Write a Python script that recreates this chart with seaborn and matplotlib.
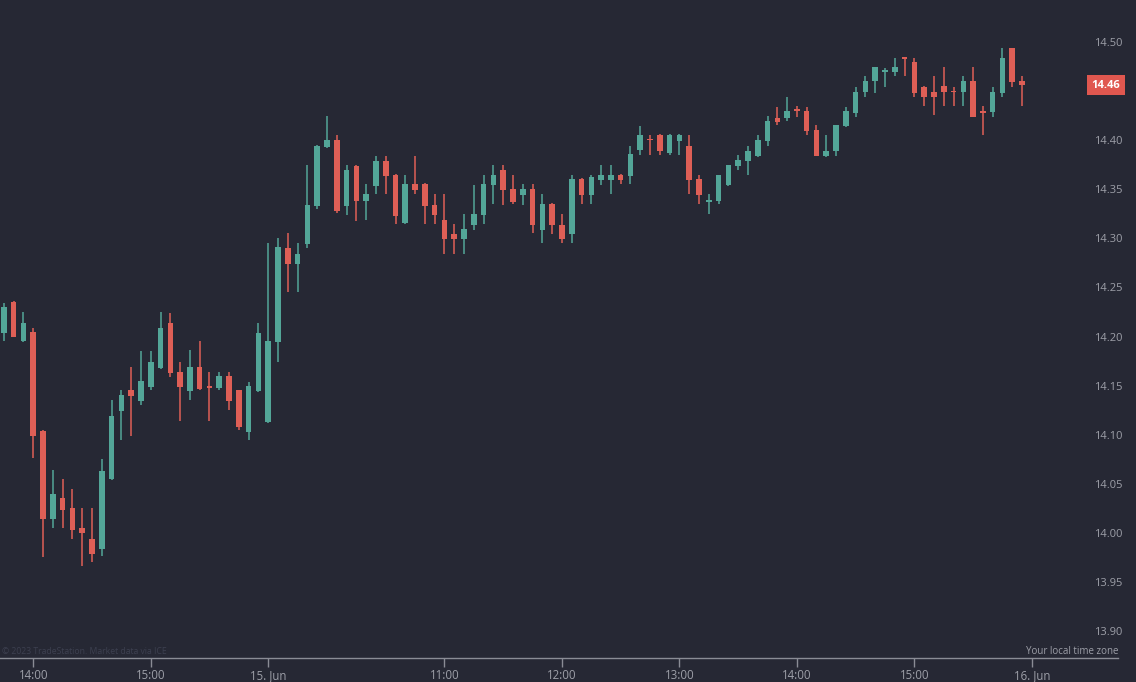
import numpy as np
import pandas as pd
import matplotlib
matplotlib.use("Agg")
import matplotlib.pyplot as plt
import matplotlib.transforms as mtransforms
import seaborn as sns

# 5-minute candles, 14 Jun 13:45 -> 15 Jun 15:55 (session 9:30-16:00)
opens = [14.204, 14.235, 14.195, 14.205, 14.104, 14.014, 14.035, 14.025, 14.005, 13.994,
         13.984, 14.055, 14.124, 14.145, 14.134, 14.149, 14.168, 14.214, 14.164, 14.144,
         14.169, 14.150, 14.148, 14.160, 14.145, 14.103, 14.144, 14.113, 14.194, 14.290,
         14.274, 14.294, 14.333, 14.393, 14.400, 14.333, 14.374, 14.338, 14.353, 14.379,
         14.365, 14.316, 14.355, 14.355, 14.334, 14.319, 14.304, 14.299, 14.314, 14.324,
         14.354, 14.370, 14.350, 14.344, 14.350, 14.309, 14.335, 14.314, 14.304, 14.360,
         14.344, 14.359, 14.359, 14.365, 14.364, 14.390, 14.401, 14.405, 14.387, 14.399,
         14.394, 14.360, 14.337, 14.338, 14.354, 14.374, 14.379, 14.384, 14.399, 14.423,
         14.423, 14.431, 14.430, 14.410, 14.384, 14.389, 14.414, 14.428, 14.449, 14.460,
         14.469, 14.469, 14.484, 14.480, 14.454, 14.449, 14.455, 14.450, 14.449, 14.460,
         14.430, 14.429, 14.448, 14.494, 14.460]
highs = [14.234, 14.236, 14.225, 14.209, 14.105, 14.064, 14.055, 14.045, 14.025, 14.025,
         14.075, 14.135, 14.145, 14.169, 14.185, 14.185, 14.225, 14.224, 14.174, 14.186,
         14.195, 14.164, 14.164, 14.164, 14.146, 14.154, 14.214, 14.295, 14.300, 14.305,
         14.295, 14.375, 14.395, 14.425, 14.405, 14.375, 14.375, 14.355, 14.384, 14.384,
         14.366, 14.365, 14.384, 14.356, 14.345, 14.345, 14.315, 14.325, 14.354, 14.365,
         14.375, 14.375, 14.365, 14.355, 14.355, 14.345, 14.336, 14.325, 14.365, 14.361,
         14.365, 14.375, 14.375, 14.366, 14.394, 14.414, 14.405, 14.406, 14.406, 14.406,
         14.405, 14.365, 14.345, 14.365, 14.375, 14.385, 14.394, 14.405, 14.425, 14.434,
         14.444, 14.435, 14.434, 14.415, 14.405, 14.415, 14.434, 14.454, 14.465, 14.475,
         14.474, 14.484, 14.484, 14.484, 14.455, 14.465, 14.475, 14.454, 14.465, 14.475,
         14.435, 14.454, 14.494, 14.494, 14.465]
lows = [14.195, 14.199, 14.194, 14.076, 13.975, 14.005, 14.005, 13.994, 13.966, 13.970,
        13.976, 14.054, 14.095, 14.099, 14.130, 14.145, 14.167, 14.159, 14.114, 14.135,
        14.145, 14.114, 14.145, 14.125, 14.105, 14.095, 14.143, 14.112, 14.174, 14.245,
        14.245, 14.290, 14.330, 14.392, 14.326, 14.324, 14.318, 14.319, 14.345, 14.345,
        14.315, 14.315, 14.345, 14.315, 14.315, 14.284, 14.284, 14.284, 14.309, 14.315,
        14.335, 14.334, 14.335, 14.334, 14.305, 14.295, 14.304, 14.295, 14.295, 14.335,
        14.335, 14.354, 14.345, 14.355, 14.355, 14.385, 14.385, 14.385, 14.385, 14.385,
        14.345, 14.335, 14.325, 14.335, 14.353, 14.370, 14.365, 14.383, 14.394, 14.415,
        14.420, 14.424, 14.405, 14.384, 14.383, 14.384, 14.413, 14.424, 14.444, 14.448,
        14.454, 14.465, 14.465, 14.444, 14.435, 14.426, 14.435, 14.435, 14.435, 14.424,
        14.405, 14.424, 14.444, 14.454, 14.435]
closes = [14.230, 14.200, 14.214, 14.099, 14.014, 14.040, 14.023, 14.003, 14.000, 13.978,
          14.063, 14.119, 14.140, 14.139, 14.155, 14.174, 14.209, 14.163, 14.149, 14.169,
          14.147, 14.148, 14.160, 14.134, 14.108, 14.150, 14.204, 14.195, 14.291, 14.274,
          14.284, 14.334, 14.394, 14.400, 14.328, 14.370, 14.338, 14.345, 14.379, 14.364,
          14.323, 14.355, 14.349, 14.333, 14.324, 14.299, 14.299, 14.310, 14.325, 14.355,
          14.365, 14.349, 14.337, 14.350, 14.314, 14.335, 14.314, 14.299, 14.360, 14.344,
          14.362, 14.365, 14.365, 14.359, 14.386, 14.405, 14.400, 14.389, 14.405, 14.405,
          14.359, 14.344, 14.339, 14.365, 14.375, 14.380, 14.389, 14.400, 14.420, 14.419,
          14.430, 14.430, 14.409, 14.384, 14.389, 14.415, 14.430, 14.449, 14.460, 14.475,
          14.472, 14.475, 14.483, 14.448, 14.444, 14.444, 14.449, 14.449, 14.460, 14.424,
          14.428, 14.449, 14.484, 14.459, 14.456]

xtick_pos = [3, 15, 27, 45, 57, 69, 81, 93, 105]
xtick_labels = ["14:00", "15:00", "15. Jun", "11:00", "12:00", "13:00", "14:00", "15:00", "16. Jun"]
ytick_vals = [13.90, 13.95, 14.00, 14.05, 14.10, 14.15, 14.20, 14.25, 14.30, 14.35, 14.40, 14.50]

BG = "#262834"
UP = "#53a698"
DOWN = "#de5f56"
TXT = "#9d9fa8"
AXL = "#8a8c95"

df = pd.DataFrame({"open": opens, "high": highs, "low": lows, "close": closes})
df["i"] = np.arange(len(df))
df["up"] = df["close"] > df["open"]

sns.set_theme(style="dark", rc={"axes.facecolor": BG, "figure.facecolor": BG})
plt.rcParams["font.family"] = ["Open Sans", "DejaVu Sans"]

fig = plt.figure(figsize=(11.36, 6.82), dpi=100)
ax = fig.add_axes([0, 24.3 / 682, 1118 / 1136, 657.7 / 682])

colors = np.where(df["up"], UP, DOWN)
ax.vlines(df["i"], df["low"], df["high"], colors=colors, linewidth=1.1, zorder=2)
body_low = df[["open", "close"]].min(axis=1)
body_h = np.maximum((df["close"] - df["open"]).abs(), 0.0014)
ax.bar(df["i"], body_h, bottom=body_low, width=0.57, color=colors, linewidth=0, zorder=3)

ax.set_xlim(-3.9 / 9.79, (1118 - 3.9) / 9.79)
ax.set_ylim(13.8728, 14.5428)
ax.grid(False)

for s in ["top", "left", "right"]:
    ax.spines[s].set_visible(False)
ax.spines["bottom"].set_color(AXL)
ax.spines["bottom"].set_linewidth(1)

ax.set_xticks(xtick_pos)
ax.set_xticklabels(xtick_labels)
ax.tick_params(axis="x", direction="out", length=6.5, width=1, color=AXL,
               labelcolor=TXT, labelsize=8.3, pad=1.5, bottom=True)

ax.yaxis.tick_right()
ax.set_yticks(ytick_vals)
ax.set_yticklabels([f"{v:.2f}" for v in ytick_vals])
ax.tick_params(axis="y", length=0, labelcolor=TXT, labelsize=8, pad=3)
plt.setp(ax.get_yticklabels(), ha="right")

# last price label
last = closes[-1]
trans = mtransforms.blended_transform_factory(ax.transAxes, ax.transData)
ax.text(1106 / 1118, last, f"{last:.2f}", transform=trans, ha="center", va="center",
        color="white", fontsize=8, fontweight="bold", clip_on=False,
        bbox=dict(boxstyle="square,pad=0.4", facecolor="#e0574f", edgecolor="none"))

fig.text(1118 / 1136, 1 - 651 / 682, "Your local time zone", ha="right", va="center",
         color=TXT, fontsize=7)
fig.text(2 / 1136, 1 - 652 / 682, "\u00a9 2023 TradeStation. Market data via ICE",
         ha="left", va="center", color="#3d4050", fontsize=6.2)

fig.savefig("out.png", dpi=100, facecolor=BG)
